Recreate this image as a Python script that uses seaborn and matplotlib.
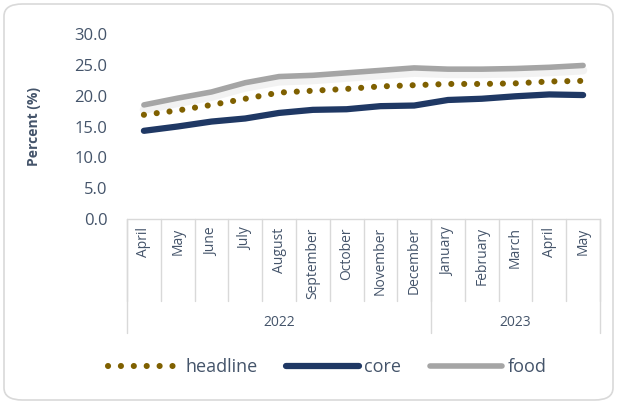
import pandas as pd
import seaborn as sns
import matplotlib.pyplot as plt
import matplotlib.patheffects as pe
from matplotlib.patches import FancyBboxPatch
from matplotlib.lines import Line2D

# data
months = ["April", "May", "June", "July", "August", "September", "October",
          "November", "December", "January", "February", "March", "April", "May"]
years = ["2022", "2023"]
months_per_year = [9, 5]
headline = [16.9, 17.6, 18.5, 19.5, 20.5, 20.8, 21.1, 21.5, 21.7, 21.9, 21.9, 22.0, 22.3, 22.4]
core = [14.3, 15.0, 15.8, 16.3, 17.2, 17.7, 17.8, 18.3, 18.4, 19.3, 19.5, 19.9, 20.2, 20.1]
food = [18.5, 19.6, 20.6, 22.1, 23.1, 23.3, 23.7, 24.1, 24.5, 24.3, 24.3, 24.4, 24.6, 24.9]
yticks = [0, 5, 10, 15, 20, 25, 30]

df = pd.DataFrame({"pos": range(len(months)), "headline": headline,
                   "core": core, "food": food})

sns.set_theme(style="white")
plt.rcParams['font.family'] = ['Open Sans', 'DejaVu Sans']
txt = "#44546A"
dots = (0, (0.01, 2.1))

fig = plt.figure(figsize=(6.17, 4.04), dpi=100)
ax = fig.add_axes([127/617, 1-219/404, (600-127)/617, (219-34)/404])

# food with a soft shadow
sns.lineplot(data=df, x="pos", y="food", ax=ax, color="#A5A5A5", lw=4,
             solid_capstyle="round", label="food",
             path_effects=[pe.SimpleLineShadow(offset=(0, -3.5), shadow_color="#bbbbbb",
                                               alpha=0.18, linewidth=6),
                           pe.Normal()])
sns.lineplot(data=df, x="pos", y="core", ax=ax, color="#1F3864", lw=4.5,
             solid_capstyle="round", label="core")
sns.lineplot(data=df, x="pos", y="headline", ax=ax, color="#7F6000", lw=4.4,
             linestyle=dots, dash_capstyle="round", label="headline")

ax.set_xlim(-0.5, len(months) - 0.5)
ax.set_ylim(0, 30)
ax.set_yticks(yticks, [f"{v:.1f}" for v in yticks])
ax.set_xticks(range(len(months)), months, rotation=90)
ax.tick_params(axis="x", length=0, pad=6, labelsize=10, labelcolor=txt)
ax.tick_params(axis="y", length=0, pad=14, labelsize=12, labelcolor=txt)
ax.set_xlabel("")
ax.set_ylabel("Percent (%)", fontsize=10, fontweight="bold", color=txt, labelpad=24)
for s in ax.spines.values():
    s.set_visible(False)
ax.get_legend().remove()

# category boxes under the axis
grid = "#D9D9D9"
tr = ax.get_xaxis_transform()
month_bottom = -(301-219)/(219-34)
year_bottom = -(333-219)/(219-34)
ax.add_line(Line2D([-0.5, len(months)-0.5], [0, 0], transform=tr, color=grid, lw=1, clip_on=False))
for i in range(len(months) + 1):
    ax.add_line(Line2D([i-0.5, i-0.5], [0, month_bottom], transform=tr, color=grid,
                       lw=1, clip_on=False))
start = 0
for y, n in zip(years, months_per_year):
    ax.add_line(Line2D([start-0.5, start-0.5], [0, year_bottom], transform=tr,
                       color=grid, lw=1, clip_on=False))
    ax.text(start + n/2 - 0.5, -(323-219)/(219-34), y, transform=tr, ha="center",
            va="center", fontsize=10, color=txt)
    start += n
ax.add_line(Line2D([start-0.5, start-0.5], [0, year_bottom], transform=tr,
                   color=grid, lw=1, clip_on=False))

# legend
handles = [Line2D([], [], color="#7F6000", lw=4.4, linestyle=dots, dash_capstyle="round"),
           Line2D([], [], color="#1F3864", lw=4.5, solid_capstyle="round"),
           Line2D([], [], color="#A5A5A5", lw=4, solid_capstyle="round")]
fig.legend(handles, ["headline", "core", "food"], loc="center",
           bbox_to_anchor=(0.53, 1-367/404), ncol=3, frameon=False,
           handlelength=4.0, handletextpad=0.3, columnspacing=1.6,
           prop={"size": 13}, labelcolor=txt)

# rounded outer border
fig.patches.append(FancyBboxPatch((4/617, 4/404), 609/617, 396/404,
                                  boxstyle="round,pad=0,rounding_size=0.03",
                                  transform=fig.transFigure, fill=False,
                                  edgecolor=grid, lw=1.2))

fig.savefig("out.png", dpi=100)
